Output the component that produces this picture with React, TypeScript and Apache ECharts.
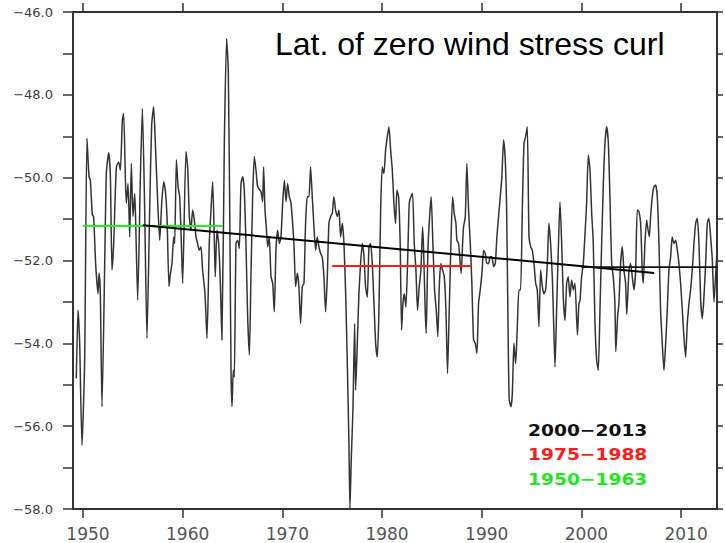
import React, { useEffect, useRef } from "react";
import * as echarts from "echarts";

const MINUS = "\u2212";

// Latitude of zero wind stress curl — [year, latitude]
const s1949 = [
  [1949.33, -54.85], [1949.5, -53.2], [1949.57, -53.44], [1949.67, -54.0], [1949.9, -56.46], [1950.17, -54.41],
  [1950.4, -49.05], [1950.61, -49.98], [1950.74, -50.06], [1950.94, -50.9], [1951.07, -50.94], [1951.27, -52.07],
  [1951.51, -52.8], [1951.61, -52.31], [1951.74, -52.8], [1951.91, -55.53], [1952.34, -49.9], [1952.58, -49.4],
  [1952.75, -49.98], [1952.91, -52.23], [1953.08, -51.59], [1953.35, -49.74], [1953.58, -49.62], [1953.75, -49.82],
  [1953.95, -48.61], [1954.08, -48.45], [1954.25, -49.98], [1954.35, -50.62], [1954.52, -50.14], [1954.69, -51.43],
  [1954.85, -49.66], [1955.02, -50.94], [1955.19, -50.38], [1955.29, -51.1], [1955.49, -52.96], [1955.76, -49.98],
  [1955.96, -48.33], [1956.19, -50.78], [1956.42, -53.88], [1956.69, -50.78], [1956.89, -48.73], [1957.09, -48.29],
  [1957.26, -49.17], [1957.53, -50.78], [1957.7, -51.51], [1957.9, -50.62], [1958.1, -50.1], [1958.26, -50.3],
  [1958.43, -50.94], [1958.63, -52.63], [1958.77, -52.31], [1958.93, -52.07], [1959.1, -51.43], [1959.2, -51.59],
  [1959.37, -49.57], [1959.54, -50.22], [1959.7, -50.46], [1959.87, -51.59],
];
const s1960 = [
  [1960.0, -52.55], [1960.33, -49.37], [1960.5, -49.74], [1960.67, -50.94], [1960.83, -51.27], [1961.0, -50.78],
  [1961.17, -51.02], [1961.34, -51.43], [1961.5, -51.59], [1961.67, -51.75], [1961.84, -51.67], [1962.0, -52.23],
  [1962.24, -52.8], [1962.44, -53.88], [1962.67, -51.59], [1962.84, -50.78], [1963.01, -50.1], [1963.17, -51.43],
  [1963.27, -52.39], [1963.44, -51.27], [1963.61, -51.59], [1963.78, -52.55], [1963.94, -53.92], [1964.18, -49.17],
  [1964.41, -46.64], [1964.58, -47.44], [1964.75, -51.59], [1964.85, -54.65], [1964.95, -55.53], [1965.08, -54.65],
  [1965.18, -54.81], [1965.35, -51.59], [1965.52, -51.51], [1965.68, -51.71], [1965.85, -50.14], [1966.02, -49.98],
  [1966.18, -50.3], [1966.35, -51.59], [1966.52, -53.36], [1966.69, -54.28], [1966.85, -52.39], [1967.02, -50.46],
  [1967.19, -49.49], [1967.36, -49.82], [1967.52, -50.22], [1967.86, -50.34], [1968.02, -50.58], [1968.12, -49.74],
  [1968.26, -50.78], [1968.39, -51.19], [1968.53, -51.67], [1968.69, -51.43], [1968.86, -52.39], [1969.03, -52.55],
  [1969.19, -53.24], [1969.36, -51.75], [1969.53, -51.27], [1969.7, -51.59], [1969.86, -51.43],
];
const s1970 = [
  [1970.03, -50.62], [1970.2, -50.06], [1970.37, -50.58], [1970.53, -50.14], [1970.7, -50.46], [1970.87, -50.62],
  [1971.16, -51.59], [1971.33, -52.63], [1971.5, -52.31], [1971.66, -52.63], [1971.83, -53.52], [1972.0, -52.63],
  [1972.17, -52.55], [1972.33, -51.1], [1972.5, -50.46], [1972.67, -50.46], [1972.83, -49.74], [1973.0, -50.46],
  [1973.17, -51.19], [1973.34, -51.75], [1973.5, -51.43], [1973.67, -51.67], [1973.84, -51.83], [1974.0, -51.91],
  [1974.17, -52.39], [1974.34, -53.24], [1974.51, -52.39], [1974.67, -51.1], [1974.84, -50.94], [1975.01, -50.86],
  [1975.17, -50.46], [1975.34, -50.78], [1975.51, -50.94], [1975.68, -50.78], [1975.84, -51.43], [1976.01, -51.1],
  [1976.18, -51.59], [1976.35, -52.8], [1976.51, -54.41], [1976.68, -56.42], [1976.78, -57.98], [1976.91, -56.82],
  [1977.08, -55.61], [1977.25, -53.52], [1977.35, -55.13], [1977.52, -54.0], [1977.68, -52.8], [1977.85, -52.07],
  [1978.02, -51.59], [1978.19, -51.91], [1978.35, -52.63], [1978.52, -52.88], [1978.69, -51.67], [1978.85, -51.59],
  [1979.02, -52.07], [1979.19, -53.04], [1979.36, -54.0], [1979.52, -54.33], [1979.69, -53.2], [1979.86, -50.78],
];
const s1980 = [
  [1980.02, -49.74], [1980.19, -49.9], [1980.36, -49.33], [1980.53, -49.01], [1980.69, -48.77], [1980.86, -49.33],
  [1981.03, -49.82], [1981.19, -50.62], [1981.36, -51.1], [1981.49, -50.3], [1981.66, -50.46], [1981.82, -51.59],
  [1981.96, -53.68], [1982.09, -53.04], [1982.23, -52.8], [1982.39, -53.12], [1982.56, -52.07], [1982.73, -50.62],
  [1982.89, -50.46], [1983.06, -50.38], [1983.23, -51.59], [1983.4, -52.23], [1983.56, -53.2], [1983.73, -52.63],
  [1983.9, -52.23], [1984.07, -51.19], [1984.17, -51.75], [1984.33, -53.2], [1984.43, -53.76], [1984.6, -51.75],
  [1984.77, -50.94], [1984.93, -50.46], [1985.1, -51.59], [1985.27, -52.71], [1985.44, -53.2], [1985.6, -53.84],
  [1985.74, -52.63], [1985.9, -52.07], [1986.07, -52.23], [1986.24, -52.39], [1986.41, -53.2], [1986.57, -54.73],
  [1986.74, -53.2], [1986.91, -51.59], [1987.08, -50.46], [1987.24, -50.86], [1987.41, -51.1], [1987.51, -51.51],
  [1987.68, -51.59], [1987.84, -52.07], [1987.94, -52.31], [1988.08, -51.59], [1988.18, -51.19], [1988.35, -50.94],
  [1988.51, -49.66], [1988.68, -50.78], [1988.85, -51.59], [1989.01, -52.55], [1989.18, -53.92], [1989.35, -54.0],
  [1989.52, -54.24], [1989.68, -53.04], [1989.85, -52.71],
];
const s1990 = [
  [1990.02, -52.31], [1990.19, -51.75], [1990.35, -51.83], [1990.52, -52.07], [1990.69, -52.07], [1990.85, -51.91],
  [1991.02, -51.91], [1991.19, -52.15], [1991.36, -52.07], [1991.52, -51.43], [1991.69, -50.94], [1991.86, -50.46],
  [1992.02, -49.98], [1992.19, -49.09], [1992.36, -49.57], [1992.5, -50.78], [1992.66, -54.0], [1992.76, -55.37],
  [1992.93, -55.53], [1993.07, -55.21], [1993.23, -54.0], [1993.4, -54.49], [1993.57, -53.6], [1993.73, -52.71],
  [1993.9, -52.71], [1994.07, -50.78], [1994.24, -49.17], [1994.4, -49.01], [1994.57, -48.77], [1994.74, -51.43],
  [1994.91, -51.67], [1995.07, -51.75], [1995.24, -52.07], [1995.41, -52.55], [1995.57, -52.71], [1995.74, -53.6],
  [1995.91, -52.23], [1996.08, -52.63], [1996.24, -52.8], [1996.41, -52.71], [1996.58, -52.07], [1996.74, -51.1],
  [1996.91, -51.59], [1997.08, -52.39], [1997.18, -53.2], [1997.35, -54.57], [1997.51, -53.2], [1997.68, -51.75],
  [1997.85, -50.58], [1998.02, -51.59], [1998.18, -52.88], [1998.35, -53.44], [1998.52, -52.55], [1998.68, -52.39],
  [1998.85, -52.88], [1999.02, -52.47], [1999.19, -52.71], [1999.35, -52.55], [1999.6, -53.8], [1999.75, -53.04],
  [1999.86, -52.96],
];
const s2000 = [
  [2000.02, -52.39], [2000.19, -52.07], [2000.36, -51.35], [2000.52, -50.62], [2000.69, -49.45], [2000.86, -49.82],
  [2001.03, -50.86], [2001.19, -51.59], [2001.36, -53.52], [2001.53, -54.41], [2001.69, -54.65], [2001.86, -53.2],
  [2002.03, -51.59], [2002.2, -50.14], [2002.36, -49.17], [2002.53, -48.77], [2002.7, -49.17], [2002.86, -50.46],
  [2003.03, -52.07], [2003.19, -52.39], [2003.36, -53.04], [2003.45, -54.2], [2003.63, -53.36], [2003.76, -53.04],
  [2003.93, -52.07], [2004.1, -51.67], [2004.26, -52.23], [2004.43, -52.55], [2004.55, -53.3], [2004.77, -52.23],
  [2004.93, -52.07], [2005.1, -52.39], [2005.27, -52.71], [2005.44, -52.23], [2005.6, -50.78], [2005.77, -50.82],
  [2005.94, -51.1], [2006.1, -52.23], [2006.2, -52.55], [2006.37, -51.59], [2006.54, -51.02], [2006.64, -51.19],
  [2006.81, -51.43], [2006.94, -50.94], [2007.11, -50.46], [2007.27, -50.22], [2007.44, -50.18], [2007.61, -50.46],
  [2007.78, -51.59], [2007.94, -53.2], [2008.11, -54.0], [2008.28, -54.65], [2008.45, -54.0], [2008.61, -53.2],
  [2008.78, -52.23], [2008.95, -51.91], [2009.11, -51.43], [2009.28, -51.59], [2009.45, -51.51], [2009.62, -51.75],
  [2009.78, -52.07], [2009.95, -52.55],
];
const s2010 = [
  [2010.12, -53.2], [2010.28, -53.84], [2010.45, -54.33], [2010.62, -53.52], [2010.79, -53.04], [2010.95, -52.71],
  [2011.12, -52.23], [2011.29, -51.59], [2011.46, -51.1], [2011.62, -50.98], [2011.79, -51.59], [2011.96, -52.96],
  [2012.13, -53.4], [2012.29, -52.88], [2012.46, -52.07], [2012.63, -51.1], [2012.79, -50.98], [2012.96, -51.43],
  [2013.13, -51.99], [2013.3, -53.0], [2013.45, -52.4], [2013.58, -51.85],
];

// Period means and linear trend
const mean1950 = [[1950, -51.17], [1964, -51.17]];
const mean1975 = [[1975, -52.13], [1989, -52.13]];
const mean2000 = [[2000, -52.16], [2013.6, -52.16]];
const trend = [[1956, -51.15], [2007.3, -52.3]];

const xTicks = [1950, 1960, 1970, 1980, 1990, 2000, 2010];
const legendLabels = ["2000\u22122013", "1975\u22121988", "1950\u22121963"];
const legendColors = ["#111111", "#ff1a1a", "#1fe61f"];
const titleText = "Lat. of zero wind stress curl";

const X_MIN = 1949;
const X_MAX = 2013.6;
const Y_MIN = -58;
const Y_MAX = -46;

export default function App() {
  const ref = useRef<HTMLDivElement>(null);

  useEffect(() => {
    if (!ref.current) return;
    const chart = echarts.init(ref.current, undefined, { renderer: "svg" });
    const axisColor = "#333";
    const series = [...s1949, ...s1960, ...s1970, ...s1980, ...s1990, ...s2000, ...s2010];

    const seg = (data: number[][], color: string, width: number, z: number, smooth: number | boolean = false) => ({
      type: "line",
      data,
      showSymbol: false,
      symbol: "none",
      smooth,
      z,
      lineStyle: { color, width },
      silent: true,
    });

    chart.setOption({
      animation: false,
      backgroundColor: "#ffffff",
      grid: { left: 73, right: 8, top: 12, bottom: 34, containLabel: false, outerBoundsMode: "none" },
      xAxis: [
        {
          type: "value",
          position: "bottom",
          min: X_MIN,
          max: X_MAX,
          splitLine: { show: false },
          axisLine: { show: true, onZero: false, lineStyle: { color: axisColor, width: 2 } },
          axisTick: { show: true, length: 9, customValues: xTicks, lineStyle: { color: axisColor, width: 1.5 } },
          axisLabel: {
            customValues: xTicks,
            formatter: (v: number) => String(v),
            color: "#555",
            fontSize: 17,
            fontFamily: "DejaVu Sans",
            margin: 16,
            padding: [0, 0, 0, 10],
          },
        },
        {
          type: "value",
          position: "top",
          min: X_MIN,
          max: X_MAX,
          splitLine: { show: false },
          axisLine: { show: true, onZero: false, lineStyle: { color: axisColor, width: 2 } },
          axisTick: { show: true, length: 9, customValues: xTicks, lineStyle: { color: axisColor, width: 1.5 } },
          axisLabel: { show: false },
        },
      ],
      yAxis: [
        {
          type: "value",
          position: "left",
          min: Y_MIN,
          max: Y_MAX,
          interval: 1,
          splitLine: { show: false },
          axisLine: { show: true, onZero: false, lineStyle: { color: axisColor, width: 2 } },
          axisTick: { show: true, length: 10, lineStyle: { color: axisColor, width: 1.5 } },
          axisLabel: {
            formatter: (v: number) => {
              const r = Math.round(v);
              if (Math.abs(r % 2) === 1) return "";
              return (r < 0 ? MINUS : "") + Math.abs(r).toFixed(1);
            },
            color: "#3c3c3c",
            fontSize: 13,
            fontFamily: "DejaVu Sans",
            margin: 20,
          },
        },
        {
          type: "value",
          position: "right",
          min: Y_MIN,
          max: Y_MAX,
          interval: 1,
          splitLine: { show: false },
          axisLine: { show: true, onZero: false, lineStyle: { color: axisColor, width: 2 } },
          axisTick: { show: true, length: 6, lineStyle: { color: axisColor, width: 1.5 } },
          axisLabel: { show: false },
        },
      ],
      series: [
        seg(series, "#333333", 1.5, 2, 0.2),
        seg(mean1950, "#22ee22", 2, 3),
        seg(mean1975, "#ff1a1a", 2, 3),
        seg(trend, "#000000", 2, 4),
        seg(mean2000, "#111111", 1.8, 4),
      ],
      graphic: [
        {
          type: "text",
          x: 275,
          y: 44,
          style: {
            text: titleText,
            font: '32px "Liberation Sans", Arial, sans-serif',
            fill: "#000",
            align: "left",
            verticalAlign: "middle",
          },
        },
        ...legendLabels.map((t, i) => ({
          type: "text",
          x: 528,
          y: 430 + i * 24.5,
          scaleX: 1.13,
          style: {
            text: t,
            font: 'bold 16.5px "DejaVu Sans", sans-serif',
            fill: legendColors[i],
            align: "left",
            verticalAlign: "middle",
          },
        })),
      ],
    });

    return () => chart.dispose();
  }, []);

  return (
    <div
      ref={ref}
      style={{ position: "absolute", left: 0, top: 0, width: 725, height: 543, background: "#fff" }}
    />
  );
}
